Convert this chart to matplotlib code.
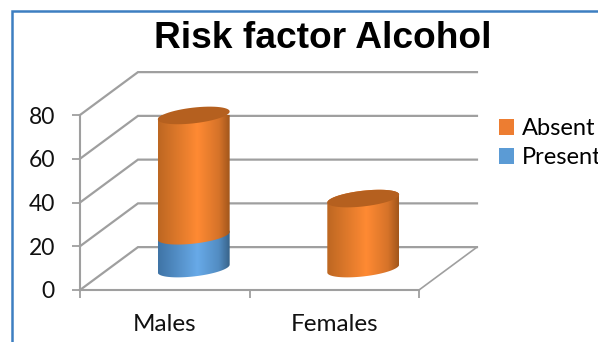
from __future__ import annotations

import numpy as np
import matplotlib
matplotlib.use("Agg")
import matplotlib.pyplot as plt
from matplotlib.colors import LinearSegmentedColormap
from matplotlib.lines import Line2D
from matplotlib.patches import Patch, Polygon

OUT_PATH = "out.png"

categories = ["Males", "Females"]
present = [15, 0]
absent = [55, 32]
y_ticks = [0, 20, 40, 60, 80]

W, H = 598, 342
GRID = "#9f9f9f"
ORANGE = "#ed7d31"
BLUE = "#5b9bd5"
FRAME = "#3d7fc1"

# floor depth and cylinder shape, in axis units
DEPTH_X = 0.342
DEPTH_Y = 19.6
RADIUS_X = 0.212
RADIUS_Y = 3.6
TILT_Y = 1.8

orange_map = LinearSegmentedColormap.from_list(
    "orange3d", [(0, "#bd6722"), (0.55, "#ff8a33"), (0.85, "#d67329"), (1, "#a2561b")])
blue_map = LinearSegmentedColormap.from_list(
    "blue3d", [(0, "#3f74a6"), (0.55, "#68aae8"), (0.85, "#528cc2"), (1, "#386389")])


def ring(cx, value, start, stop):
    t = np.linspace(start, stop, 60)
    xs = cx + RADIUS_X * np.cos(t)
    ys = value + DEPTH_Y / 2 + RADIUS_Y * np.sin(t) + TILT_Y * np.cos(t)
    return np.column_stack([xs, ys])


def draw_segment(ax, cx, low, high, cmap, z):
    # front arc of the lower ring, back arc of the upper ring
    outline = np.vstack([ring(cx, low, np.pi, 2 * np.pi), ring(cx, high, 0, np.pi)])
    clip = Polygon(outline, closed=True, transform=ax.transData, facecolor="none", edgecolor="none")
    ax.add_patch(clip)
    gradient = np.linspace(0, 1, 128).reshape(1, -1)
    img = ax.imshow(gradient, cmap=cmap, aspect="auto", zorder=z, interpolation="bilinear",
                    extent=(cx - RADIUS_X, cx + RADIUS_X, low - 10, high + 30))
    img.set_clip_path(clip)


def main():
    fig = plt.figure(figsize=(W / 100, H / 100), dpi=100, facecolor="white")
    ax = fig.add_axes([80 / W, 1 - 290 / H, 339 / W, 175 / H])
    ax.set_facecolor("none")

    # side wall, back wall and floor
    for v in y_ticks:
        ax.plot([0, DEPTH_X, 2 + DEPTH_X], [v, v + DEPTH_Y, v + DEPTH_Y],
                color=GRID, lw=1.6, clip_on=False, zorder=1, solid_joinstyle="miter")
    ax.plot([2, 2 + DEPTH_X], [0, DEPTH_Y], color=GRID, lw=1.2, clip_on=False, zorder=1)

    for i in range(len(categories)):
        cx = i + 0.5 + DEPTH_X / 2
        base = 0
        if present[i] > 0:
            draw_segment(ax, cx, base, present[i], blue_map, 3)
            base = present[i]
        top = base + absent[i]
        draw_segment(ax, cx, base, top, orange_map, 4)
        ax.add_patch(Polygon(ring(cx, top, 0, 2 * np.pi), closed=True, facecolor="#b5601f",
                             edgecolor="none", zorder=5, clip_on=False))

    ax.set_xlim(0, 2)
    ax.set_ylim(0, 80)
    ax.set_yticks(y_ticks)
    ax.set_xticks([0, 1, 2])
    ax.set_xticklabels([])
    ax.set_xticks([0.5, 1.5], labels=categories, minor=True)
    ax.tick_params(axis="x", which="major", length=6, width=1.3, color=GRID)
    ax.tick_params(axis="x", which="minor", length=0, pad=17, labelsize=17.5)
    ax.tick_params(axis="y", length=6, width=1.3, color=GRID, pad=12, labelsize=16.5)
    for name in ("top", "right"):
        ax.spines[name].set_visible(False)
    for name in ("left", "bottom"):
        ax.spines[name].set_color(GRID)
        ax.spines[name].set_linewidth(1.5)
    for label in ax.get_xticklabels(minor=True) + ax.get_yticklabels():
        label.set_family("Lato")
        label.set_color("#111111")

    fig.text(323 / W, 1 - 48 / H, "Risk factor Alcohol", ha="center", va="baseline",
             family="Liberation Sans", weight="bold", fontsize=26.7, color="black")

    handles = [Patch(facecolor=ORANGE, label="Absent"), Patch(facecolor=BLUE, label="Present")]
    fig.legend(handles=handles, loc="upper left", bbox_to_anchor=(499 / W, 1 - 118 / H),
               frameon=False, borderpad=0, borderaxespad=0, handlelength=0.64, handleheight=0.64,
               handletextpad=0.32, labelspacing=0.36, prop={"family": "Lato", "size": 17})

    # blue frame on the left and top edges
    fig.add_artist(Line2D([11.5 / W, 11.5 / W, 1], [0, 1 - 11 / H, 1 - 11 / H], color=FRAME, lw=1.8,
                          transform=fig.transFigure, solid_joinstyle="miter"))

    fig.savefig(OUT_PATH, dpi=100)


if __name__ == "__main__":
    main()
